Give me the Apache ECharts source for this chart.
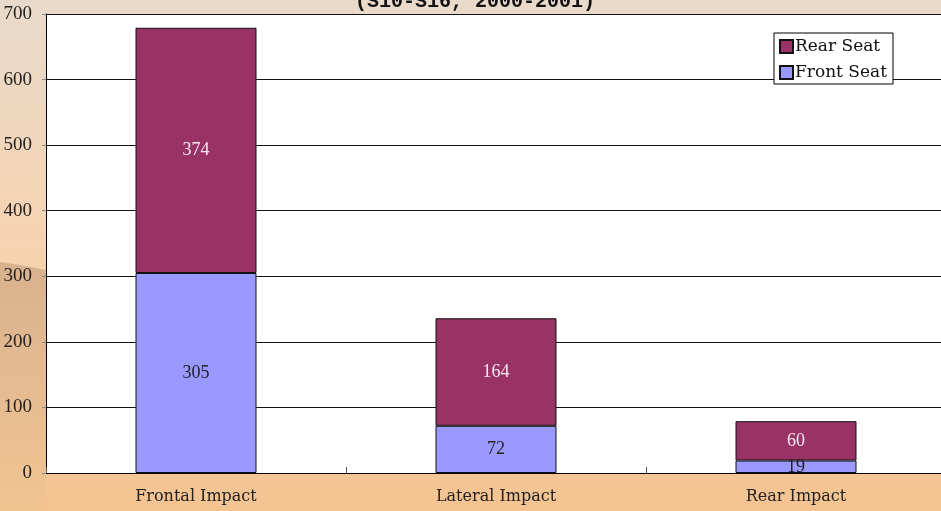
<!DOCTYPE html>
<html>
<head>
<meta charset="utf-8">
<script src="https://cdn.jsdelivr.net/npm/echarts@6/dist/echarts.min.js"></script>
<style>
  html, body { margin: 0; padding: 0; }
  #chart { width: 941px; height: 511px; }
</style>
</head>
<body>
<div id="chart"></div>
<script>
// 数据
const categories = ['Frontal Impact', 'Lateral Impact', 'Rear Impact']
const frontSeat = [305, 72, 19]
const rearSeat = [374, 164, 60]
const yTicks = { min: 0, max: 700, interval: 100 }

const chart = echarts.init(document.getElementById('chart'))

const option = {
  backgroundColor: {
    type: 'linear', x: 0, y: 0, x2: 0, y2: 1,
    colorStops: [
      { offset: 0, color: '#e9dacb' },
      { offset: 0.5, color: '#f7d3b0' },
      { offset: 1, color: '#f4c391' }
    ]
  },
  // 背景装饰（左下角深色波浪）
  graphic: [
    {
      type: 'polygon',
      z: -10,
      shape: { points: [[0, 262], [20, 265], [46, 270], [46, 511], [0, 511]] },
      style: {
        fill: {
          type: 'linear', x: 0, y: 0, x2: 0, y2: 1,
          colorStops: [
            { offset: 0, color: '#d8b28e' },
            { offset: 1, color: '#f2c492' }
          ]
        }
      }
    }
  ],
  title: {
    text: '(S10-S16, 2000-2001)',
    left: 470,
    textAlign: 'center',
    top: -13,
    textStyle: {
      fontFamily: 'Liberation Mono',
      fontWeight: 'bold',
      fontSize: 20,
      color: '#111'
    }
  },
  legend: {
    data: ['Rear Seat', 'Front Seat'],
    orient: 'vertical',
    right: 48,
    top: 33,
    padding: [5, 6, 3, 5],
    itemGap: 9,
    itemWidth: 13,
    itemHeight: 13,
    backgroundColor: '#fff',
    borderColor: '#000',
    borderWidth: 1,
    borderRadius: 0,
    icon: 'rect',
    textStyle: {
      fontFamily: 'DejaVu Serif',
      fontSize: 17,
      color: '#111',
      padding: [0, 0, 0, -3]
    }
  },
  grid: {
    left: 46,
    right: -5,
    top: 14,
    bottom: 38,
    outerBoundsMode: 'none',
    show: true,
    backgroundColor: '#fff',
    borderWidth: 0,
    containLabel: false
  },
  xAxis: {
    type: 'category',
    data: categories,
    boundaryGap: true,
    axisLine: { lineStyle: { color: '#000', width: 1 } },
    axisTick: { show: true, inside: true, length: 6, lineStyle: { color: '#555' } },
    axisLabel: {
      fontFamily: 'DejaVu Serif',
      fontSize: 16,
      color: '#222',
      margin: 16
    }
  },
  yAxis: {
    type: 'value',
    min: yTicks.min,
    max: yTicks.max,
    interval: yTicks.interval,
    axisLine: { show: true, lineStyle: { color: '#000', width: 1 } },
    axisTick: { show: true, length: 4, lineStyle: { color: '#888' } },
    axisLabel: {
      fontFamily: 'Liberation Serif',
      fontSize: 19,
      color: '#222',
      margin: 14
    },
    splitLine: { lineStyle: { color: '#111', width: 1 } }
  },
  series: [
    {
      name: 'Front Seat',
      type: 'bar',
      stack: 'total',
      barWidth: 121,
      data: frontSeat,
      itemStyle: { color: '#9999ff', borderColor: '#111', borderWidth: 1 },
      label: {
        show: true,
        position: 'inside',
        fontFamily: 'Liberation Serif',
        fontSize: 18,
        color: '#222'
      }
    },
    {
      name: 'Rear Seat',
      type: 'bar',
      stack: 'total',
      barWidth: 121,
      data: rearSeat,
      itemStyle: { color: '#993366', borderColor: '#111', borderWidth: 1 },
      label: {
        show: true,
        position: 'inside',
        fontFamily: 'Liberation Serif',
        fontSize: 18,
        color: '#f4e8ee'
      }
    }
  ]
}

chart.setOption(option)
</script>
</body>
</html>
